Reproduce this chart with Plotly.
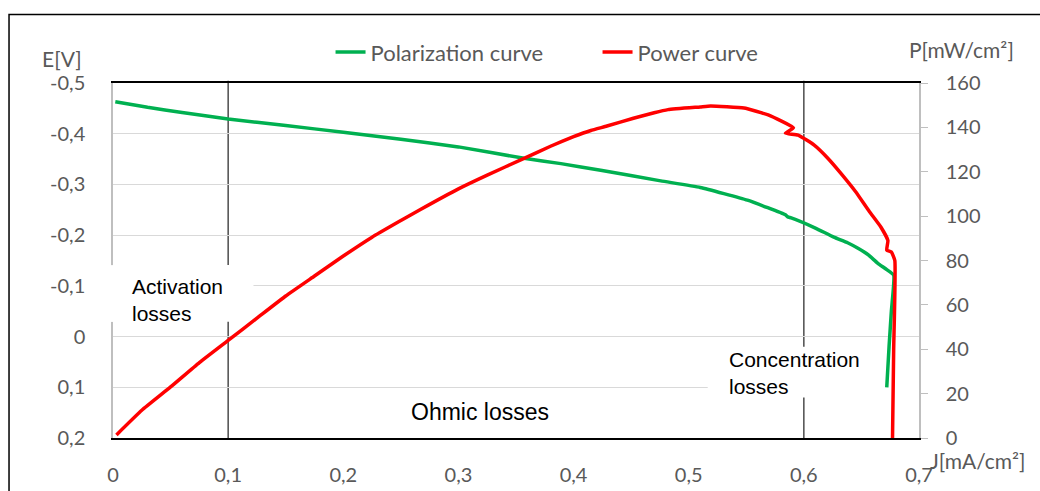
import plotly.graph_objects as go

# ---- data ----
j_pol = [0.002, 0.03, 0.06, 0.1, 0.15, 0.2, 0.25, 0.3, 0.357, 0.389, 0.4235, 0.4757,
         0.51, 0.551, 0.584, 0.586, 0.589, 0.61, 0.626, 0.638, 0.647, 0.656, 0.664,
         0.672, 0.678, 0.676, 0.674, 0.672]
e_pol = [-0.463, -0.452, -0.442, -0.429, -0.416, -0.403, -0.389, -0.374, -0.3515, -0.341,
         -0.328, -0.307, -0.294, -0.269, -0.240, -0.236, -0.234, -0.214, -0.196, -0.185,
         -0.174, -0.161, -0.145, -0.132, -0.121, -0.05, 0.02, 0.1]

j_pow = [0.003, 0.025, 0.05, 0.075, 0.1, 0.125, 0.15, 0.175, 0.2, 0.225, 0.25, 0.267,
         0.3, 0.325, 0.357, 0.38, 0.4, 0.415, 0.429, 0.452, 0.47, 0.482, 0.51, 0.519, 0.548, 0.569,
         0.591, 0.584, 0.595, 0.609, 0.621, 0.632, 0.645, 0.657, 0.667, 0.673, 0.672,
         0.676, 0.679, 0.678, 0.677]
p_pow = [1.4, 12.5, 23, 34, 44, 54, 64, 73, 82, 90.5, 98, 103,
         112.3, 118.5, 126, 131.5, 135.8, 138.6, 140.6, 144.1, 146.6, 148, 149.2, 149.6, 148.7, 145.6,
         139.8, 137.4, 136.5, 132, 126, 119.4, 111, 102, 95, 89, 84.7,
         83.8, 80, 40, 0]

x_ticks = [0, 0.1, 0.2, 0.3, 0.4, 0.5, 0.6, 0.7]
x_labels = ["0", "0,1", "0,2", "0,3", "0,4", "0,5", "0,6", "0,7"]
e_ticks = [-0.5, -0.4, -0.3, -0.2, -0.1, 0, 0.1, 0.2]
e_labels = ["-0,5", "-0,4", "-0,3", "-0,2", "-0,1", "0", "0,1", "0,2"]
p_ticks = [0, 20, 40, 60, 80, 100, 120, 140, 160]
region_lines = [0.1, 0.6]

GREEN = "#00b050"
RED = "#ff0000"
GRAY_TXT = "#595959"
TICK_FONT = dict(family="Lato", size=20, color=GRAY_TXT)
NOTE_FONT = dict(family="Liberation Sans, Arial", size=21, color="black")

fig = go.Figure()
fig.add_trace(go.Scatter(x=j_pol, y=e_pol, name="Polarization curve", mode="lines",
                         line=dict(color=GREEN, width=3.5, shape="spline", smoothing=0.4)))
fig.add_trace(go.Scatter(x=j_pow, y=p_pow, name="Power curve", mode="lines", yaxis="y2",
                         line=dict(color=RED, width=3.5, shape="spline", smoothing=0.4)))

shapes = []
# white boxes behind region labels (hide gridlines)
shapes.append(dict(type="rect", xref="x", yref="y", x0=-0.003, x1=0.122, y0=-0.141, y1=-0.029,
                   fillcolor="white", line=dict(width=0), layer="between"))
shapes.append(dict(type="rect", xref="x", yref="y", x0=0.5165, x1=0.7, y0=0.02, y1=0.12,
                   fillcolor="white", line=dict(width=0), layer="between"))
# gap in left axis line behind the "Activation losses" box
shapes.append(dict(type="rect", xref="paper", yref="paper", x0=-0.006, x1=0.004, y0=0.327, y1=0.487,
                   fillcolor="white", line=dict(width=0), layer="above"))
for xv in region_lines:
    shapes.append(dict(type="line", xref="x", yref="paper", x0=xv, x1=xv, y0=0, y1=1.006,
                       line=dict(color="#303030", width=1.3), layer="between"))
# outer frame
shapes.append(dict(type="rect", xref="paper", yref="paper", x0=-0.129, x1=1.16, y0=-0.17, y1=1.193,
                   line=dict(color="black", width=1.5), fillcolor="rgba(0,0,0,0)"))

annotations = [
    dict(text="Activation<br>losses", xref="x", yref="y", x=0.0148, y=-0.072,
         xanchor="left", yanchor="middle", align="left", showarrow=False, font=NOTE_FONT),
    dict(text="Concentration<br>losses", xref="x", yref="y", x=0.533, y=0.072,
         xanchor="left", yanchor="middle", align="left", showarrow=False, font=NOTE_FONT),
    dict(text="Ohmic losses", xref="x", yref="y", x=0.319, y=0.149,
         xanchor="center", yanchor="middle", showarrow=False,
         font=dict(family="Liberation Sans, Arial", size=23, color="black")),
    dict(text="E[V]", xref="paper", yref="paper", x=-0.0627, y=1.068,
         xanchor="center", yanchor="middle", showarrow=False,
         font=dict(family="Lato", size=21, color=GRAY_TXT)),
    dict(text="P[mW/cm²]", xref="paper", yref="paper", x=1.0527, y=1.093,
         xanchor="center", yanchor="middle", showarrow=False,
         font=dict(family="Lato", size=21, color=GRAY_TXT)),
    dict(text="J[mA/cm²]", xref="paper", yref="paper", x=1.011, y=-0.062,
         xanchor="left", yanchor="middle", showarrow=False,
         font=dict(family="Lato", size=21, color=GRAY_TXT)),
]

fig.update_layout(
    width=1040, height=491, autosize=False,
    margin=dict(l=113, r=121, t=83, b=53, autoexpand=False),
    paper_bgcolor="white", plot_bgcolor="white",
    shapes=shapes, annotations=annotations,
    showlegend=True,
    legend=dict(orientation="h", x=0.2699, y=1.087, xanchor="left", yanchor="middle",
                font=dict(family="Lato", size=22, color=GRAY_TXT),
                entrywidth=222, entrywidthmode="pixels",
                bgcolor="rgba(0,0,0,0)", borderwidth=0),
    xaxis=dict(range=[0, 0.7], tickmode="array", tickvals=x_ticks, ticktext=x_labels,
               showgrid=False, zeroline=False, showline=True, linecolor="black", linewidth=2,
               mirror=True, ticks="", ticklabelstandoff=18, tickfont=TICK_FONT),
    yaxis=dict(range=[0.2, -0.5], tickmode="array", tickvals=e_ticks, ticktext=e_labels,
               showgrid=True, gridcolor="#d9d9d9", gridwidth=1.3, zeroline=False,
               showline=True, linecolor="#bfbfbf", linewidth=1.5, ticks="",
               ticklabelstandoff=22, tickfont=TICK_FONT),
    yaxis2=dict(range=[0, 160], tickmode="array", tickvals=p_ticks, overlaying="y", side="right",
                showgrid=False, zeroline=False, showline=True, linecolor="#bfbfbf", linewidth=1.5,
                ticks="outside", ticklen=7, tickcolor="#bfbfbf", ticklabelstandoff=14,
                tickfont=TICK_FONT),
)

fig.write_html("out.html")
